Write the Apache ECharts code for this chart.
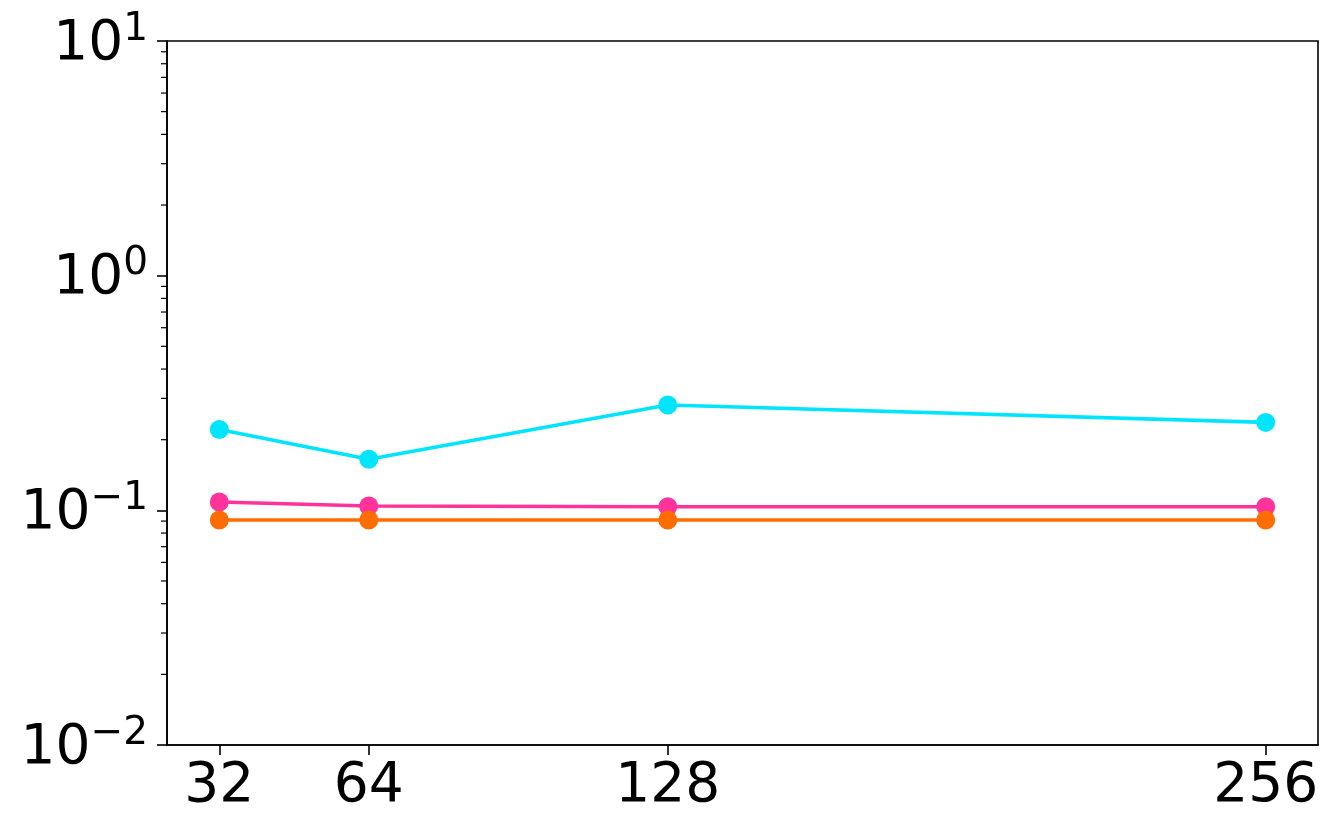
<!DOCTYPE html>
<html>
<head>
<meta charset="utf-8">
<script src="https://cdn.jsdelivr.net/npm/echarts@6/dist/echarts.min.js"></script>
<style>html,body{margin:0;padding:0;background:#fff}#c{width:1339px;height:839px}</style>
</head>
<body>
<div id="c"></div>
<script>
const xValues = [32, 64, 128, 256];
const xTickLabels = [32, 64, 128, 256];
const cyanValues = [0.221, 0.165, 0.281, 0.237];
const pinkValues = [0.1085, 0.1043, 0.1036, 0.1036];
const orangeValues = [0.0909, 0.0909, 0.0909, 0.0909];
const yMin = 0.01, yMax = 10;
const xMin = 20.8, xMax = 267.2;
const minorDecades = [0.01, 0.1, 1];
const minorMultipliers = [2, 3, 4, 5, 6, 7, 8, 9];

const minorData = [];
minorDecades.forEach(d => minorMultipliers.forEach(m => minorData.push([xMin, m * d])));

const pairs = vals => xValues.map((x, i) => [x, vals[i]]);
const FONT = 'DejaVu Sans';

const chart = echarts.init(document.getElementById('c'), null, {renderer: 'canvas'});
function lineSeries(name, vals, color) {
  return {
    name, type: 'line', data: pairs(vals),
    symbol: 'circle', symbolSize: 19,
    lineStyle: {color, width: 3.6},
    itemStyle: {color},
    emphasis: {disabled: true},
    animation: false
  };
}
chart.setOption({
  animation: false,
  backgroundColor: '#fff',
  grid: {left: 167, right: 21, top: 41, bottom: 94, show: true, borderColor: '#000', borderWidth: 1.6, containLabel: false, outerBoundsMode: 'none'},
  xAxis: {
    type: 'value', min: xMin, max: xMax,
    splitLine: {show: false},
    axisLine: {show: true, lineStyle: {color: '#000', width: 1.6}},
    axisTick: {show: true, length: 10, inside: false, lineStyle: {color: '#000', width: 1.6}, customValues: xValues},
    axisLabel: {customValues: xTickLabels, color: '#000', fontFamily: FONT, fontSize: 55, margin: 14, formatter: v => String(v)}
  },
  yAxis: {
    type: 'log', logBase: 10, min: yMin, max: yMax, interval: 1,
    splitLine: {show: false},
    axisLine: {show: true, lineStyle: {color: '#000', width: 1.6}},
    axisTick: {show: true, length: 10, inside: false, lineStyle: {color: '#000', width: 1.6}},
    minorTick: {show: false},
    axisLabel: {
      color: '#000', fontFamily: FONT, margin: 19,
      formatter: v => {
        const e = Math.round(Math.log10(v));
        const s = e < 0 ? '\u2212' + (-e) : String(e);
        return '{b|10}{s|' + s + '}';
      },
      rich: {
        b: {fontFamily: FONT, fontSize: 55, color: '#000', lineHeight: 62, verticalAlign: 'bottom'},
        s: {fontFamily: FONT, fontSize: 39, color: '#000', lineHeight: 40, verticalAlign: 'top'}
      }
    }
  },
  series: [
    {
      type: 'custom', data: minorData, silent: true, clip: false, z: 5,
      renderItem: (params, api) => {
        const p = api.coord([api.value(0), api.value(1)]);
        return {type: 'line', shape: {x1: p[0] - 6, y1: p[1], x2: p[0], y2: p[1]}, style: {stroke: '#000', lineWidth: 1.2}};
      }
    },
    lineSeries('cyan', cyanValues, '#00e5ff'),
    lineSeries('pink', pinkValues, '#ff3399'),
    lineSeries('orange', orangeValues, '#ff6d00')
  ]
});
</script>
</body>
</html>
